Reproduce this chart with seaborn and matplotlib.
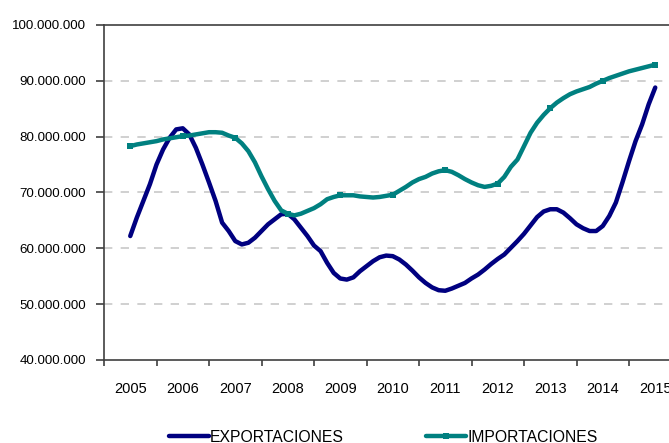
import numpy as np
import pandas as pd
import matplotlib
matplotlib.use('Agg')
import matplotlib.pyplot as plt
from matplotlib.ticker import FuncFormatter, MultipleLocator, FixedLocator
import seaborn as sns

# points every 1/8 year (millions)
years = list(range(2005, 2016))
steps = [2005 + i / 8 for i in range(81)]
exportaciones = [62.2, 65.5, 68.5, 71.5, 75.0, 77.7, 79.8, 81.3,
                 81.5, 80.4, 78.0, 75.0, 71.8, 68.5, 64.6, 63.1,
                 61.3, 60.7, 61.0, 61.9, 63.1, 64.3, 65.2, 66.1,
                 66.2, 65.2, 63.7, 62.2, 60.5, 59.5, 57.4, 55.6,
                 54.6, 54.4, 54.8, 55.9, 56.8, 57.7, 58.4, 58.7,
                 58.6, 58.0, 57.1, 56.0, 54.8, 53.8, 53.0, 52.5,
                 52.4, 52.8, 53.3, 53.8, 54.6, 55.3, 56.2, 57.2,
                 58.1, 58.9, 60.1, 61.3, 62.6, 64.1, 65.6, 66.6,
                 67.0, 67.0, 66.4, 65.4, 64.3, 63.6, 63.1, 63.1,
                 64.0, 65.8, 68.2, 71.8, 75.6, 79.2, 82.2, 85.8,
                 88.8]
importaciones = [78.3, 78.6, 78.8, 79.0, 79.2, 79.5, 79.7, 79.9,
                 80.1, 80.2, 80.4, 80.6, 80.8, 80.8, 80.7, 80.2,
                 79.8, 78.8, 77.4, 75.4, 72.9, 70.6, 68.5, 66.8,
                 66.2, 65.9, 66.2, 66.7, 67.2, 67.9, 68.8, 69.2,
                 69.5, 69.5, 69.5, 69.3, 69.2, 69.1, 69.2, 69.4,
                 69.6, 70.3, 71.0, 71.8, 72.4, 72.8, 73.4, 73.8,
                 74.0, 73.7, 73.1, 72.4, 71.8, 71.3, 71.0, 71.2,
                 71.6, 72.8, 74.6, 75.9, 78.3, 80.7, 82.5, 83.9,
                 85.1, 86.1, 86.9, 87.6, 88.1, 88.5, 88.9, 89.5,
                 90.0, 90.5, 90.9, 91.3, 91.7, 92.0, 92.3, 92.6,
                 92.9]

df = pd.DataFrame({'t': steps,
                   'EXPORTACIONES': np.array(exportaciones) * 1e6,
                   'IMPORTACIONES': np.array(importaciones) * 1e6})

sns.set_style('white')
plt.rcParams['font.family'] = ['Liberation Sans', 'DejaVu Sans']
plt.rcParams['text.color'] = 'black'
plt.rcParams['xtick.color'] = 'black'
plt.rcParams['ytick.color'] = 'black'

fig = plt.figure(figsize=(6.69, 4.43), dpi=100)
ax = fig.add_axes([104 / 669, 83 / 443, 577.5 / 669, 335 / 443])

sns.lineplot(data=df, x='t', y='EXPORTACIONES', ax=ax, color='#000080',
             lw=3.2, label='EXPORTACIONES', solid_joinstyle='round',
             solid_capstyle='round')
sns.lineplot(data=df, x='t', y='IMPORTACIONES', ax=ax, color='#008080',
             lw=3.2, marker='s', markersize=4.5, markevery=8,
             markeredgewidth=0, label='IMPORTACIONES', solid_joinstyle='round',
             solid_capstyle='round')

ax.set_xlim(2004.5, 2015.5)
ax.set_ylim(40e6, 100e6)
ax.yaxis.set_major_locator(MultipleLocator(10e6))
ax.yaxis.set_major_formatter(FuncFormatter(lambda v, p: f"{v:,.0f}".replace(',', '.')))
ax.xaxis.set_major_locator(FixedLocator([y - 0.5 for y in years] + [2015.5]))
ax.xaxis.set_major_formatter(FuncFormatter(lambda v, p: ''))
ax.xaxis.set_minor_locator(FixedLocator(years))
ax.xaxis.set_minor_formatter(FuncFormatter(lambda v, p: str(int(round(v)))))
ax.tick_params(axis='x', which='major', direction='out', length=4, width=1.2,
               color='#404040', bottom=True)
ax.tick_params(axis='x', which='minor', length=0, pad=16, labelsize=10.5,
               bottom=True)
ax.tick_params(axis='y', direction='out', length=5.8, width=1.2, color='#404040',
               pad=7, labelsize=9.6, left=True)

for y in range(50, 100, 10):
    ax.axhline(y * 1e6, color='#c8c8c8', lw=1.2, ls=(0, (5, 5)), zorder=0)

for s in ['left', 'bottom', 'top']:
    ax.spines[s].set_color('#404040')
    ax.spines[s].set_linewidth(1.2)
ax.spines['right'].set_visible(False)
ax.set_xlabel('')
ax.set_ylabel('')

ax.legend_.remove()
handles, labels = ax.get_legend_handles_labels()
fig.legend(handles, labels, loc='center', bbox_to_anchor=(383 / 669, 6 / 443),
           ncol=2, frameon=False, fontsize=11.3, handlelength=2.55,
           handletextpad=0.1, columnspacing=5.2)

fig.savefig('out.png', dpi=100)
